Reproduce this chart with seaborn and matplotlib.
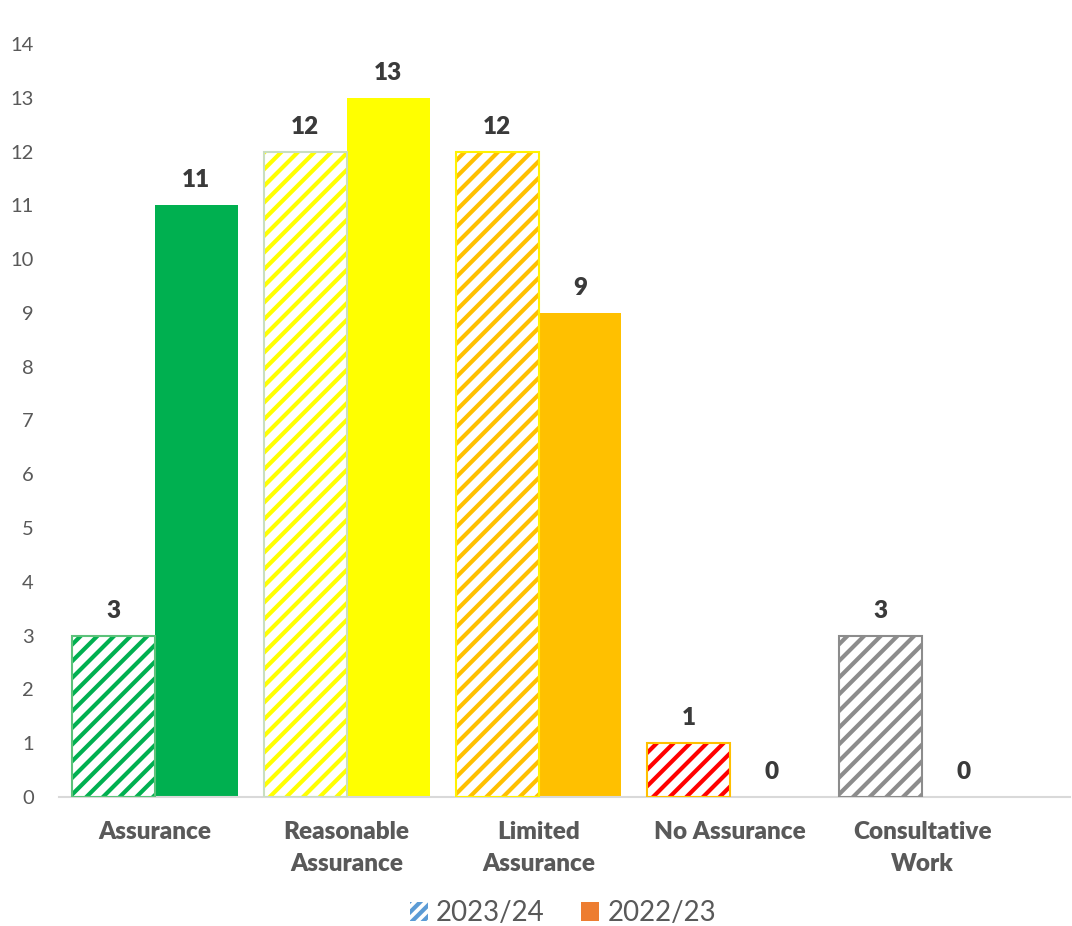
import matplotlib
matplotlib.use("Agg")
import matplotlib.pyplot as plt
import matplotlib.patches as mpatches
import seaborn as sns
import pandas as pd

categories = ["Assurance", "Reasonable\nAssurance", "Limited\nAssurance", "No Assurance", "Consultative\nWork"]
years = ["2023/24", "2022/23"]
values_2324 = [3, 12, 12, 1, 3]
values_2223 = [11, 13, 9, 0, 0]
y_ticks = list(range(0, 15))

solid_colors = ["#00B050", "#FFFF00", "#FFC000", "#FF0000", "#7F7F7F"]
hatch_colors = ["#00B050", "#FFFF00", "#FFC000", "#FF0000", "#8C8C8C"]
border_colors = ["#5CC27A", "#C9DEC0", "#FFF200", "#FFC000", "#8C8C8C"]

df = pd.DataFrame({
    "category": categories * 2,
    "year": [years[0]] * len(categories) + [years[1]] * len(categories),
    "value": values_2324 + values_2223,
})

sns.set_theme(style="white")
plt.rcParams["font.family"] = ["Lato", "DejaVu Sans"]
plt.rcParams["hatch.linewidth"] = 3.0

fig = plt.figure(figsize=(10.72, 9.26), dpi=100)
ax = fig.add_axes([0.055, 0.1393, 0.943, 0.8132])

sns.barplot(data=df, x="category", y="value", hue="year", hue_order=years,
            order=categories, width=0.865, ax=ax, legend=False, errorbar=None,
            saturation=1)

# style bars
hatched = ax.containers[0]
solid = ax.containers[1]
for i, p in enumerate(hatched.patches):
    p.set_facecolor("white")
    p.set_edgecolor(hatch_colors[i])
    p.set_hatch("//")
    p.set_linewidth(0)
    border = mpatches.Rectangle((p.get_x(), p.get_y()), p.get_width(), p.get_height(),
                                fill=False, edgecolor=border_colors[i], linewidth=1.5, zorder=3)
    ax.add_patch(border)
for i, p in enumerate(solid.patches):
    p.set_facecolor(solid_colors[i])
    p.set_edgecolor(solid_colors[i])
    p.set_linewidth(0)

for cont in ax.containers:
    ax.bar_label(cont, labels=[f"{int(v)}" for v in cont.datavalues], padding=10,
                 fontsize=17.5, fontweight="heavy", color="#3A3A3A")

ax.set_ylim(0, 14)
ax.set_xlim(-0.5, 4.77)
ax.set_yticks(y_ticks)
ax.set_yticklabels([str(t) for t in y_ticks], fontsize=14.5, color="#595959")
ax.tick_params(axis="y", length=0, pad=18)
ax.tick_params(axis="x", length=0, pad=17)
for lab in ax.get_xticklabels():
    lab.set_fontsize(17.5)
    lab.set_fontweight("heavy")
    lab.set_color("#595959")
    lab.set_linespacing(1.6)
    lab.set_verticalalignment("top")
ax.set_xlabel("")
ax.set_ylabel("")
for s in ["top", "right", "left"]:
    ax.spines[s].set_visible(False)
ax.spines["bottom"].set_color("#D9D9D9")
ax.spines["bottom"].set_linewidth(1.5)
ax.grid(False)

handles = [
    mpatches.Patch(facecolor="white", edgecolor="#5B9BD5", hatch="///", linewidth=0, label=years[0]),
    mpatches.Patch(facecolor="#ED7D31", edgecolor="#ED7D31", linewidth=0, label=years[1]),
]
fig.legend(handles=handles, loc="center", bbox_to_anchor=(0.525, 0.014), ncol=2, frameon=False,
           fontsize=20, handlelength=0.65, handleheight=0.65, handletextpad=0.3, columnspacing=1.3,
           labelcolor="#595959")

fig.savefig("out.png", dpi=100)
